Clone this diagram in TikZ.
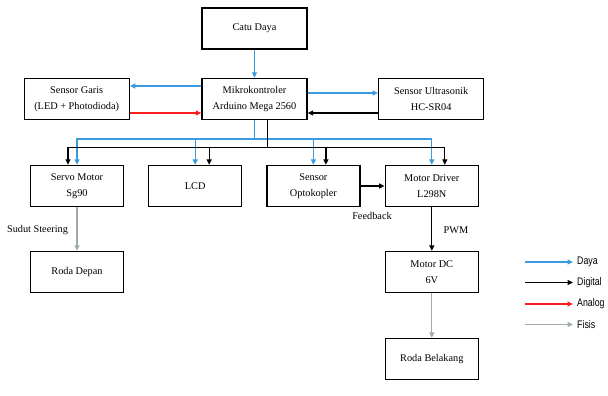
\documentclass[tikz,border=0pt]{standalone}
\usepackage{fontspec}
\setmainfont{Liberation Serif}
\newfontfamily\legendfont[FakeStretch=0.8]{Liberation Sans}
\usepackage{tikz}
\usetikzlibrary{arrows.meta,positioning}

\definecolor{dayablue}{RGB}{58,154,222}
\definecolor{analogred}{RGB}{250,30,30}
\definecolor{fisisgray}{RGB}{160,172,172}

\begin{document}
\begin{tikzpicture}[x=1pt, y=1pt, >={Triangle[length=5.5pt,width=5pt]}]
			\tikzstyle{Block}	= [rectangle, draw, line width=1.4pt, minimum width=105pt, minimum height=41pt, inner sep=0pt, align=center, font=\fontsize{10.3}{16}\selectfont]
			\tikzstyle{Small}	= [Block, minimum width=93pt]
			\tikzstyle{Daya}	= [dayablue, line width=1.3pt]
			\tikzstyle{Digital}	= [black, line width=1.3pt]
			\tikzstyle{Analog}	= [analogred, line width=1.3pt]
			\tikzstyle{Fisis}	= [fisisgray, line width=1.3pt]
			\tikzstyle{Label}	= [font=\fontsize{10.3}{13}\selectfont]
			\tikzstyle{Legend}	= [anchor=west, inner sep=1pt, font=\legendfont\fontsize{11}{13}\selectfont]

			\useasboundingbox (0,0) rectangle (608,-396);

			\node (catu) at (254.5,-28.7) [Block] {Catu Daya};
			\node (mikro) at (254.5,-99) [Block] {Mikrokontroler\\Arduino Mega 2560};
			\node (garis) at (76.7,-99) [Block] {Sensor Garis\\(LED + Photodioda)};
			\node (ultra) at (431.2,-99) [Block] {Sensor Ultrasonik\\HC-SR04};
			\node (servo) at (77,-186) [Small] {Servo Motor\\Sg90};
			\node (lcd) at (195.2,-186) [Small] {LCD};
			\node (opto) at (313.4,-186) [Small] {Sensor\\Optokopler};
			\node (driver) at (431.8,-186) [Small] {Motor Driver\\L298N};
			\node (depan) at (77,-272) [Small] {Roda Depan};
			\node (dcmotor) at (431.8,-272) [Small] {Motor DC\\6V};
			\node (belakang) at (431.8,-359) [Small] {Roda Belakang};

			\draw [->] (catu) to (mikro) [Daya];
			\draw [->] ([yshift=13pt]mikro.west) to ([yshift=13pt]garis.east) [Daya];
			\draw [->] ([yshift=-14pt]garis.east) to ([yshift=-14pt]mikro.west) [Analog];
			\draw [->] ([yshift=6pt]mikro.east) to ([yshift=6pt]ultra.west) [Daya];
			\draw [->] ([yshift=-14pt]ultra.west) to ([yshift=-14pt]mikro.east) [Digital];

			% bus daya
			\draw (mikro.south) -- ++(0,-18.7) coordinate (pbus) [Daya];
			\draw [->] (pbus) -| (servo.north) [Daya];
			\draw [->] (pbus) -| (lcd.north) [Daya];
			\draw [->] (pbus) -| (opto.north) [Daya];
			\draw [->] (pbus) -| (driver.north) [Daya];

			% bus digital
			\draw ([xshift=13pt]mikro.south) -- ++(0,-27) coordinate (dbus) [Digital];
			\draw [->] (dbus) -| ([xshift=-9pt]servo.north) [Digital];
			\draw [->] (dbus) -| ([xshift=14pt]lcd.north) [Digital];
			\draw [->] (dbus) -| ([xshift=12.5pt]opto.north) [Digital];
			\draw [->] (dbus) -| ([xshift=13pt]driver.north) [Digital];

			\draw [->] (opto) to (driver) [Digital];
			\node (fb) at (372,-216) [Label] {Feedback};
			\draw [->] (driver) to (dcmotor) [Digital];
			\node (pwm) at (456,-230) [Label] {PWM};
			\draw [->] (servo) to (depan) [Fisis];
			\node (sudut) at (37.5,-230) [Label] {Sudut Steering};
			\draw [->] (dcmotor) to (belakang) [Fisis];

			% legenda
			\coordinate (lg1) at (525,-262);
			\coordinate (lg2) at (525,-282.5);
			\coordinate (lg3) at (525,-304);
			\coordinate (lg4) at (525,-324.5);
			\node (lgDaya) at (576,-262) [Legend] {Daya};
			\node (lgDigital) at (576,-282.5) [Legend] {Digital};
			\node (lgAnalog) at (576,-304) [Legend] {Analog};
			\node (lgFisis) at (576,-324.5) [Legend] {Fisis};
			\draw [->, shorten >=3pt] (lg1) to (lgDaya) [Daya];
			\draw [->, shorten >=3pt] (lg2) to (lgDigital) [Digital];
			\draw [->, shorten >=3pt] (lg3) to (lgAnalog) [Analog];
			\draw [->, shorten >=3pt] (lg4) to (lgFisis) [Fisis];
		\end{tikzpicture}
\end{document}
